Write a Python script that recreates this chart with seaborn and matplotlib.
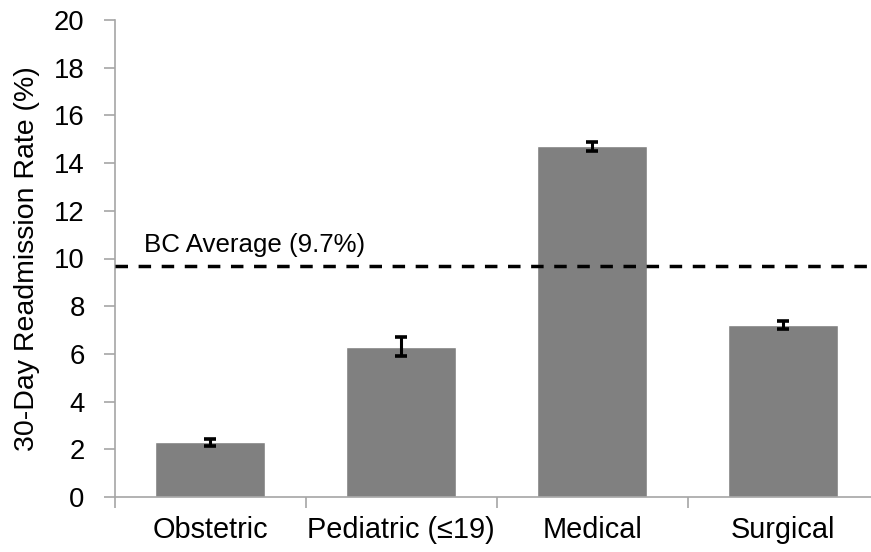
"""
30-day readmission rate by patient category, with BC average reference line.
"""

import numpy as np
import pandas as pd
import matplotlib
matplotlib.use('Agg')
import matplotlib.pyplot as plt
import seaborn as sns

categories = ['Obstetric', 'Pediatric (\u226419)', 'Medical', 'Surgical']
rates = [2.3, 6.3, 14.7, 7.2]
errors = [0.15, 0.4, 0.2, 0.17]
bc_average = 9.7
y_ticks = [0, 2, 4, 6, 8, 10, 12, 14, 16, 18, 20]

sns.set_style('white')
plt.rcParams['font.family'] = ['Liberation Sans', 'DejaVu Sans']
plt.rcParams['text.color'] = 'black'
plt.rcParams['axes.labelcolor'] = 'black'

df = pd.DataFrame({'category': categories, 'rate': rates})
axis_grey = '#a6a6a6'

fig = plt.figure(figsize=(8.71, 5.52), dpi=100)
ax = fig.add_axes([114.5 / 871, 55 / 552, 764 / 871, 477 / 552])

sns.barplot(data=df, x='category', y='rate', color='#808080', saturation=1,
            width=0.576, errorbar=None, ax=ax)

# error bars on top of each bar
ax.errorbar(np.arange(len(categories)), rates, yerr=errors, fmt='none',
            ecolor='black', elinewidth=2.2, capsize=4.5, capthick=2.6, zorder=5)

# provincial average
ax.axhline(bc_average, color='black', linestyle=(0, (3.6, 3.05)), linewidth=2.5, zorder=4)
ax.text(-0.345, bc_average + 0.57, f'BC Average ({bc_average}%)',
        fontsize=18.6, ha='left', va='baseline', color='black')

ax.set_xlim(-0.5, len(categories) - 0.5)
ax.set_ylim(0, 20)
ax.set_yticks(y_ticks)

# category boundaries get the tick marks, labels sit without ticks
ax.set_xticks(np.arange(-0.5, len(categories)), minor=True)
ax.tick_params(axis='x', which='minor', bottom=True, length=8, width=1.2,
               color=axis_grey, direction='out')
ax.tick_params(axis='x', which='major', bottom=True, length=0, pad=14,
               labelsize=20.8, labelcolor='black')
ax.tick_params(axis='y', left=True, length=8, width=1.2, color=axis_grey,
               direction='out', pad=13.5, labelsize=19.8, labelcolor='black')

for side in ['top', 'right']:
    ax.spines[side].set_visible(False)
for side in ['left', 'bottom']:
    ax.spines[side].set_color(axis_grey)
    ax.spines[side].set_linewidth(1.2)

ax.set_xlabel('')
ax.set_ylabel('30-Day Readmission Rate (%)', fontsize=20.5, labelpad=10, color='black')

fig.savefig('out.png', dpi=100)
